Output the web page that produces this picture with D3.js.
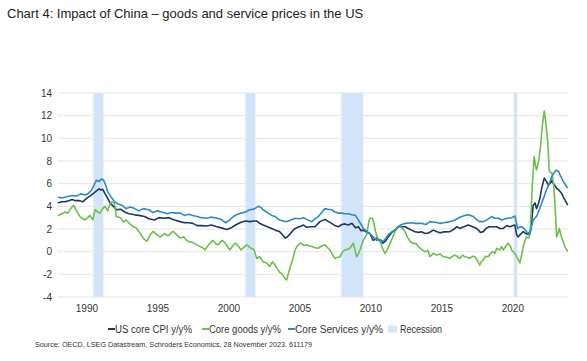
<!DOCTYPE html>
<html><head><meta charset="utf-8">
<script src="https://cdn.jsdelivr.net/npm/d3@7"></script>
<style>
html,body{margin:0;padding:0;background:#fff;}
svg{display:block;font-family:"Liberation Sans",Arial,sans-serif;}
</style></head>
<body>
<svg id="chart" width="587" height="361"></svg>
<script>
const title = "Chart 4: Impact of China \u2013 goods and service prices in the US";
const source = "Source: OECD, LSEG Datastream, Schroders Economics, 28 November 2023. 611179";
const seriesNames = ["US core CPI y/y%", "Core goods y/y%", "Core Services y/y%"];
const recessionName = "Recession";
const yTicks = [-4, -2, 0, 2, 4, 6, 8, 10, 12, 14];
const xTicks = [1990, 1995, 2000, 2005, 2010, 2015, 2020];
const recessions = [[1990.5, 1991.2], [2001.2, 2001.9], [2007.95, 2009.5], [2020.1, 2020.35]];

// [decimal year, value]
const coreCPI = [
[1988.0,4.3],[1988.25,4.4],[1988.5,4.4],[1988.75,4.5],[1989.0,4.6],[1989.25,4.5],[1989.5,4.5],[1989.75,4.4],
[1990.0,4.7],[1990.25,4.9],[1990.5,5.15],[1990.75,5.4],[1990.9,5.55],[1991.0,5.45],[1991.15,5.5],[1991.3,5.15],
[1991.5,4.7],[1991.66,4.3],[1991.9,4.0],[1992.13,3.7],[1992.4,3.75],[1992.7,3.5],[1993.0,3.35],[1993.4,3.25],
[1993.7,3.2],[1994.1,3.1],[1994.4,2.9],[1994.8,2.8],[1995.1,3.0],[1995.5,2.95],[1995.8,3.0],[1996.2,2.8],
[1996.6,2.65],[1996.9,2.56],[1997.2,2.55],[1997.5,2.5],[1997.8,2.3],[1998.1,2.3],[1998.5,2.27],[1998.8,2.35],
[1999.2,2.2],[1999.5,2.1],[1999.9,1.95],[2000.2,2.1],[2000.5,2.35],[2000.9,2.6],[2001.2,2.7],[2001.5,2.65],
[2001.8,2.7],[2002.0,2.7],[2002.2,2.5],[2002.45,2.35],[2002.75,2.2],[2003.05,2.05],[2003.3,1.9],[2003.6,1.77],
[2003.85,1.45],[2004.0,1.2],[2004.15,1.3],[2004.3,1.5],[2004.5,1.8],[2004.7,2.05],[2005.0,2.2],[2005.3,2.35],
[2005.5,2.15],[2005.75,2.2],[2006.1,2.2],[2006.45,2.65],[2006.8,2.85],[2007.0,2.7],[2007.27,2.5],[2007.5,2.3],
[2007.74,2.2],[2008.0,2.4],[2008.2,2.45],[2008.45,2.35],[2008.7,2.5],[2008.95,2.1],[2009.15,2.2],[2009.35,1.85],
[2009.5,1.9],[2009.75,1.7],[2009.97,1.6],[2010.2,1.0],[2010.44,1.2],[2010.7,0.9],[2010.9,0.75],[2011.1,1.0],
[2011.26,1.3],[2011.5,1.7],[2011.73,1.9],[2011.95,2.2],[2012.2,2.2],[2012.45,2.2],[2012.67,2.05],[2012.9,1.9],
[2013.14,1.75],[2013.4,1.7],[2013.6,1.75],[2013.85,1.6],[2014.1,1.65],[2014.43,1.9],[2014.7,1.75],[2014.9,1.66],
[2015.2,1.75],[2015.6,1.77],[2015.9,2.0],[2016.1,2.2],[2016.3,2.05],[2016.6,2.2],[2016.9,2.35],[2017.2,2.2],
[2017.5,2.05],[2017.75,1.7],[2017.95,1.77],[2018.2,2.1],[2018.4,2.2],[2018.65,2.2],[2018.9,2.2],[2019.1,2.05],
[2019.36,2.05],[2019.6,2.3],[2019.83,2.2],[2020.05,2.3],[2020.18,2.35],[2020.3,1.5],[2020.4,1.3],[2020.55,1.5],
[2020.77,1.77],[2020.95,1.6],[2021.1,1.5],[2021.3,1.95],[2021.4,3.2],[2021.47,4.1],[2021.6,4.3],[2021.7,3.8],
[2021.85,4.3],[2021.94,4.7],[2022.05,5.5],[2022.15,6.0],[2022.25,6.5],[2022.4,6.2],[2022.53,5.9],[2022.65,6.0],
[2022.77,6.3],[2022.95,5.9],[2023.12,5.6],[2023.3,5.4],[2023.47,5.15],[2023.6,4.8],[2023.7,4.56],[2023.9,4.1]
];

const coreGoods = [
[1988.0,3.2],[1988.2,3.3],[1988.5,3.5],[1988.7,3.4],[1988.9,3.8],[1989.1,4.1],[1989.3,3.6],[1989.55,3.1],
[1989.75,2.9],[1989.9,2.8],[1990.1,3.0],[1990.25,3.2],[1990.45,2.8],[1990.6,3.7],[1990.8,3.5],[1990.96,3.4],
[1991.15,3.8],[1991.3,4.0],[1991.5,3.6],[1991.65,4.2],[1991.8,4.4],[1991.95,4.3],[1992.05,3.8],[1992.1,3.1],
[1992.4,3.0],[1992.6,2.6],[1992.8,2.8],[1993.1,2.4],[1993.3,2.2],[1993.5,2.1],[1993.75,1.7],[1994.0,1.2],
[1994.25,0.9],[1994.45,1.4],[1994.7,1.8],[1994.95,1.5],[1995.2,1.3],[1995.5,1.6],[1995.75,1.4],[1996.1,1.8],
[1996.35,1.5],[1996.6,1.2],[1996.85,1.3],[1997.06,1.0],[1997.2,0.9],[1997.5,0.8],[1997.8,0.6],[1998.0,0.45],
[1998.2,0.35],[1998.35,0.15],[1998.6,0.6],[1998.9,1.0],[1999.1,0.7],[1999.3,0.6],[1999.55,1.0],[1999.76,0.8],
[2000.1,0.15],[2000.3,0.5],[2000.5,0.75],[2000.7,0.5],[2000.9,0.15],[2001.1,0.4],[2001.3,0.6],[2001.6,0.3],
[2001.8,0.2],[2002.0,-0.6],[2002.2,-0.45],[2002.45,-0.9],[2002.7,-1.0],[2002.9,-1.3],[2003.1,-0.9],[2003.3,-1.2],
[2003.6,-1.8],[2003.8,-2.0],[2004.0,-2.4],[2004.1,-2.5],[2004.3,-1.6],[2004.5,-0.8],[2004.7,0.15],[2004.9,0.6],
[2005.1,0.75],[2005.3,0.55],[2005.5,0.6],[2005.7,0.5],[2005.9,0.45],[2006.1,0.35],[2006.33,0.3],[2006.55,0.5],
[2006.8,0.6],[2006.95,0.4],[2007.15,0.15],[2007.35,-0.3],[2007.5,-0.6],[2007.7,-0.5],[2007.86,-0.45],[2008.0,-0.1],
[2008.2,0.15],[2008.4,0.2],[2008.56,0.3],[2008.8,0.75],[2009.03,-0.45],[2009.15,-0.2],[2009.27,0.15],[2009.5,1.0],
[2009.74,1.5],[2009.9,2.7],[2009.97,2.95],[2010.15,2.95],[2010.25,2.5],[2010.37,1.77],[2010.5,1.2],[2010.68,1.0],
[2010.85,0.3],[2011.03,-0.15],[2011.2,0.2],[2011.4,0.75],[2011.55,1.2],[2011.73,1.77],[2011.9,2.1],[2012.1,2.2],
[2012.3,2.0],[2012.44,1.77],[2012.6,1.3],[2012.8,0.9],[2013.05,0.7],[2013.2,0.75],[2013.37,0.45],[2013.6,0.2],
[2013.85,0.0],[2014.05,0.1],[2014.2,-0.45],[2014.43,-0.15],[2014.67,-0.3],[2014.9,-0.2],[2015.13,-0.45],[2015.4,-0.5],
[2015.6,-0.6],[2015.8,-0.4],[2015.96,-0.3],[2016.15,-0.45],[2016.3,-0.6],[2016.5,-0.3],[2016.66,-0.45],[2016.85,-0.5],
[2017.0,-0.6],[2017.2,-0.4],[2017.37,-0.45],[2017.55,-0.8],[2017.7,-1.2],[2017.8,-0.9],[2017.95,-0.75],[2018.1,-0.4],
[2018.3,-0.45],[2018.5,-0.1],[2018.65,0.0],[2018.77,-0.15],[2018.9,0.3],[2019.1,0.15],[2019.25,0.45],[2019.36,0.15],
[2019.55,0.5],[2019.7,0.75],[2019.85,0.5],[2019.95,0.15],[2020.18,-0.15],[2020.37,-0.6],[2020.53,-1.0],[2020.65,-0.3],
[2020.77,0.45],[2020.9,1.0],[2021.0,1.3],[2021.15,1.2],[2021.24,1.5],[2021.32,3.5],[2021.4,5.7],[2021.54,8.4],
[2021.62,7.7],[2021.7,7.2],[2021.87,8.1],[2022.0,9.5],[2022.1,11.0],[2022.25,12.4],[2022.35,11.5],[2022.5,9.6],
[2022.6,7.1],[2022.7,7.0],[2022.8,6.9],[2022.9,6.0],[2023.0,4.3],[2023.12,1.3],[2023.22,1.6],[2023.3,2.05],
[2023.47,1.3],[2023.6,0.8],[2023.7,0.45],[2023.9,0.0]
];

const coreServices = [
[1988.0,4.8],[1988.3,4.75],[1988.6,4.85],[1989.0,4.95],[1989.3,4.9],[1989.6,5.1],[1989.9,5.0],[1990.1,5.1],
[1990.35,5.4],[1990.55,5.9],[1990.7,6.3],[1990.9,6.2],[1991.05,6.4],[1991.2,6.35],[1991.35,5.9],[1991.5,5.3],
[1991.75,4.8],[1992.0,4.4],[1992.25,4.2],[1992.5,4.1],[1992.8,3.8],[1993.1,3.95],[1993.4,3.8],[1993.7,3.6],
[1994.0,3.8],[1994.4,3.7],[1994.7,3.45],[1995.0,3.6],[1995.3,3.5],[1995.7,3.35],[1996.0,3.45],[1996.3,3.4],
[1996.6,3.4],[1996.9,3.2],[1997.2,3.3],[1997.5,3.2],[1997.8,3.1],[1998.1,3.0],[1998.5,2.95],[1998.8,3.05],
[1999.2,2.95],[1999.5,2.85],[1999.8,2.55],[2000.1,2.8],[2000.35,3.1],[2000.65,3.3],[2000.9,3.4],[2001.2,3.5],
[2001.5,3.7],[2001.8,3.75],[2002.1,4.0],[2002.3,3.9],[2002.45,3.7],[2002.75,3.45],[2003.05,3.2],[2003.3,3.1],
[2003.6,2.8],[2003.85,2.7],[2004.1,2.65],[2004.4,2.8],[2004.7,2.95],[2005.0,2.9],[2005.3,3.0],[2005.5,2.85],
[2005.87,2.65],[2006.1,2.9],[2006.33,3.1],[2006.6,3.5],[2006.8,3.8],[2007.0,3.75],[2007.27,3.7],[2007.5,3.5],
[2007.74,3.4],[2008.0,3.4],[2008.2,3.35],[2008.45,3.35],[2008.7,3.25],[2008.95,3.2],[2009.15,2.8],[2009.35,2.4],
[2009.5,2.05],[2009.75,1.8],[2009.97,1.6],[2010.2,1.3],[2010.44,1.0],[2010.7,1.05],[2010.9,0.9],[2011.1,1.2],
[2011.26,1.5],[2011.5,1.75],[2011.73,1.9],[2011.95,2.2],[2012.2,2.4],[2012.5,2.5],[2012.9,2.55],[2013.2,2.5],
[2013.6,2.5],[2013.9,2.4],[2014.2,2.65],[2014.55,2.6],[2014.9,2.5],[2015.2,2.55],[2015.6,2.65],[2015.95,2.8],
[2016.3,3.03],[2016.55,3.15],[2016.8,3.25],[2017.05,3.2],[2017.25,3.1],[2017.5,2.8],[2017.7,2.65],[2017.95,2.65],
[2018.2,2.8],[2018.54,3.1],[2018.77,2.95],[2019.0,2.95],[2019.25,2.8],[2019.5,2.9],[2019.7,2.95],[2019.95,3.0],
[2020.18,3.15],[2020.3,2.5],[2020.37,2.05],[2020.5,2.15],[2020.65,2.2],[2020.85,2.0],[2021.0,1.77],[2021.15,1.5],
[2021.24,1.6],[2021.35,2.2],[2021.47,2.8],[2021.7,3.1],[2021.9,3.7],[2022.06,4.27],[2022.25,4.9],[2022.4,5.45],
[2022.6,6.0],[2022.77,6.6],[2022.95,7.0],[2023.12,7.2],[2023.25,7.1],[2023.35,6.8],[2023.58,6.2],[2023.75,5.9],
[2023.9,5.6]
];

const colors = ["#1d3866", "#6cc04a", "#2b8bc8"];
const recessionColor = "#d2e4f9";

const svg = d3.select("#chart");
const x = d3.scaleLinear().domain([1988, 2023.92]).range([58, 568]);
const y = d3.scaleLinear().domain([-4, 14]).range([297, 93]);

svg.append("text").attr("x", 7).attr("y", 18)
  .attr("font-size", 13).attr("fill", "#222").text(title);

// recession bands
svg.append("g").selectAll("rect").data(recessions).join("rect")
  .attr("x", d => x(d[0])).attr("width", d => x(d[1]) - x(d[0]))
  .attr("y", y(14)).attr("height", y(-4) - y(14))
  .attr("fill", recessionColor);

// gridlines
svg.append("g").selectAll("line").data(yTicks).join("line")
  .attr("x1", 58).attr("x2", 568)
  .attr("y1", d => y(d)).attr("y2", d => y(d))
  .attr("stroke", "#e4e4e4").attr("stroke-width", 1);

// y axis
const yAxis = d3.axisLeft(y).tickValues(yTicks).tickFormat(d => String(d)).tickSize(0).tickPadding(0);
const gy = svg.append("g").attr("transform", "translate(52,0)").call(yAxis);
gy.select(".domain").remove();
gy.selectAll("text").attr("font-size", 10).attr("fill", "#333")
  .attr("font-family", "'Liberation Sans',Arial,sans-serif");

// x axis
const xAxis = d3.axisBottom(x).tickValues(xTicks).tickFormat(d => String(d)).tickSize(0).tickPadding(0);
const gx = svg.append("g").attr("transform", "translate(0,305)").call(xAxis);
gx.select(".domain").remove();
gx.selectAll("text").attr("font-size", 10).attr("fill", "#333")
  .attr("font-family", "'Liberation Sans',Arial,sans-serif");

// lines
const line = d3.line().x(d => x(d[0])).y(d => y(d[1]));
const series = [coreCPI, coreGoods, coreServices];
svg.append("g").selectAll("path").data(series).join("path")
  .attr("d", line).attr("fill", "none")
  .attr("stroke", (d, i) => colors[i]).attr("stroke-width", 1.6)
  .attr("stroke-linejoin", "round");

// legend
const legendItems = [
  {name: seriesNames[0], type: "line", color: colors[0], x: 108, w: 77},
  {name: seriesNames[1], type: "line", color: colors[1], x: 202, w: 72},
  {name: seriesNames[2], type: "line", color: colors[2], x: 288, w: 88},
  {name: recessionName, type: "rect", color: recessionColor, x: 388, w: 42}
];
const lg = svg.append("g").attr("transform", "translate(0,329)");
legendItems.forEach(it => {
  if (it.type === "line") {
    lg.append("line").attr("x1", it.x).attr("x2", it.x + 7).attr("y1", 0).attr("y2", 0)
      .attr("stroke", it.color).attr("stroke-width", 2);
  } else {
    lg.append("rect").attr("x", it.x).attr("y", -3.5).attr("width", 9).attr("height", 7)
      .attr("fill", it.color);
  }
  lg.append("text").attr("x", it.x + (it.type === "line" ? 7 : 12)).attr("y", 3.5)
    .attr("font-size", 10).attr("fill", "#333")
    .attr("textLength", it.w).attr("lengthAdjust", "spacingAndGlyphs")
    .text(it.name);
});

svg.append("text").attr("x", 35).attr("y", 347)
  .attr("font-size", 8).attr("fill", "#333")
  .attr("textLength", 277).attr("lengthAdjust", "spacingAndGlyphs")
  .text(source);
</script>
</body></html>
